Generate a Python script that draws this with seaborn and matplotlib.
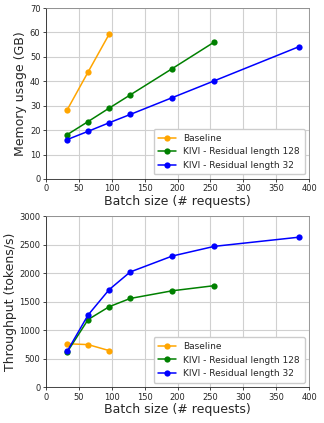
import matplotlib
matplotlib.use('Agg')
import matplotlib.pyplot as plt
import seaborn as sns
import pandas as pd

# batch sizes per method
base_bs = [32, 64, 96]
kivi128_bs = [32, 64, 96, 128, 192, 256]
kivi32_bs = [32, 64, 96, 128, 192, 256, 384]

# memory usage (GB)
base_mem = [28.2, 43.8, 59.3]
kivi128_mem = [18.1, 23.5, 29.0, 34.4, 45.2, 56.1]
kivi32_mem = [16.1, 19.5, 23.0, 26.4, 33.3, 40.2, 54.1]

# throughput (tokens/s)
base_tp = [760, 745, 640]
kivi128_tp = [610, 1185, 1410, 1555, 1690, 1780]
kivi32_tp = [625, 1265, 1710, 2020, 2300, 2470, 2630]

labels = ['Baseline', 'KIVI - Residual length 128', 'KIVI - Residual length 32']
colors = ['orange', 'green', 'blue']

def make_df(vals):
    rows = []
    for lab, bs, v in zip(labels, [base_bs, kivi128_bs, kivi32_bs], vals):
        for b, y in zip(bs, v):
            rows.append({'bs': b, 'val': y, 'method': lab})
    return pd.DataFrame(rows)

sns.set_style('ticks')
plt.rcParams['font.family'] = ['DejaVu Sans']

fig = plt.figure(figsize=(3.24, 4.23), dpi=100)
ax1 = fig.add_axes([0.142, 0.577, 0.812, 0.404])
ax2 = fig.add_axes([0.142, 0.085, 0.812, 0.404])

for ax, vals, ylab, ymax, ystep in [
        (ax1, [base_mem, kivi128_mem, kivi32_mem], 'Memory usage (GB)', 70, 10),
        (ax2, [base_tp, kivi128_tp, kivi32_tp], 'Throughput (tokens/s)', 3000, 500)]:
    df = make_df(vals)
    sns.lineplot(data=df, x='bs', y='val', hue='method', palette=colors,
                 marker='o', markersize=4.5, markeredgewidth=0, linewidth=1.1,
                 ax=ax, zorder=3)
    ax.set_xlim(0, 400)
    ax.set_ylim(0, ymax)
    ax.set_xticks(range(0, 401, 50))
    ax.set_yticks(range(0, ymax + 1, ystep))
    ax.grid(True, color='#d0d0d0', linewidth=0.8)
    ax.tick_params(labelsize=6, length=2.5, width=0.6, pad=1.5)
    ax.set_xlabel('Batch size (# requests)', fontsize=9, labelpad=1)
    ax.set_ylabel(ylab, fontsize=9, labelpad=2)
    for s in ax.spines.values():
        s.set_linewidth(0.6)
    ax.spines['top'].set_color('#888888')
    ax.spines['right'].set_color('#888888')
    ax.legend(title=None, fontsize=6.5, loc='lower right', handlelength=2,
              framealpha=1, borderpad=0.5, labelspacing=0.5)

fig.savefig('out.png', dpi=100)
